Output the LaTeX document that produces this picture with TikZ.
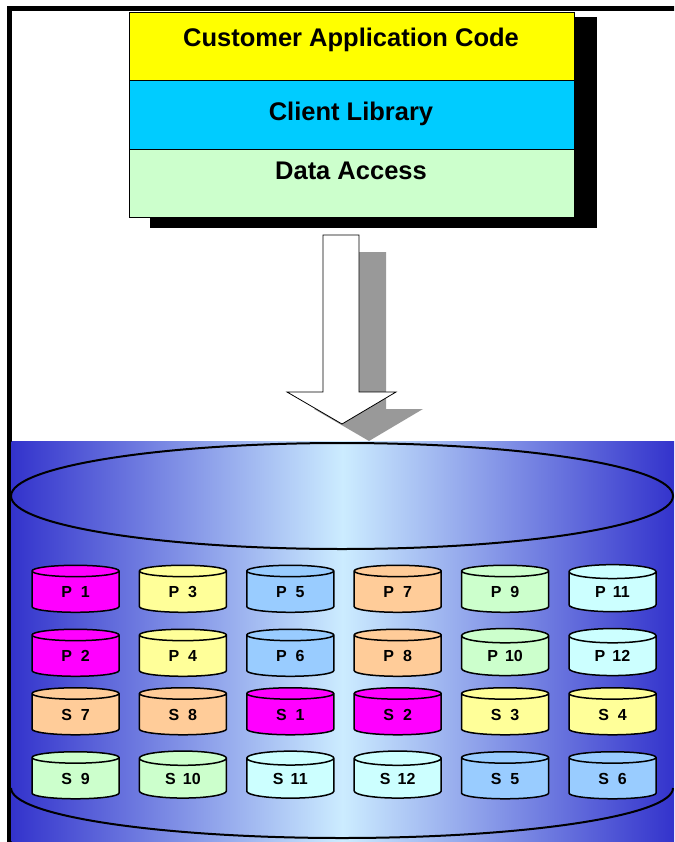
\documentclass[tikz,border=0pt]{standalone}
\usepackage{fontspec}
\setmainfont{Liberation Sans}
\usetikzlibrary{shapes.geometric}
\definecolor{appyellow}{HTML}{FFFF00}
\definecolor{libcyan}{HTML}{00CCFF}
\definecolor{accgreen}{HTML}{CCFFCC}
\definecolor{dmagenta}{HTML}{FF00FF}
\definecolor{dyellow}{HTML}{FFFF99}
\definecolor{dblue}{HTML}{99CCFF}
\definecolor{dpeach}{HTML}{FFCC99}
\definecolor{dgreen}{HTML}{CCFFCC}
\definecolor{dcyan}{HTML}{CCFFFF}
\definecolor{vaultdark}{HTML}{3333CC}
\definecolor{vaultlight}{HTML}{CCECFF}
\definecolor{shadowgray}{HTML}{999999}
\begin{document}
\begin{tikzpicture}[x=1pt,y=-1pt,
        layer/.style={draw, line width=0.8pt, minimum width=445pt,
            minimum height=68.7pt, inner sep=0pt},
        layertext/.style={anchor=base, font=\fontsize{25.5}{30}\selectfont\bfseries},
        drum/.style={cylinder, shape border rotate=90, aspect=0.4, draw,
            line width=1.5pt, minimum width=87pt, minimum height=47pt,
            inner sep=0pt, cylinder uses custom fill,
            cylinder body fill=#1, cylinder end fill=#1,
            font=\fontsize{16}{19}\selectfont\bfseries}]
    \useasboundingbox (0,0) rectangle (674,842);
    \clip (0,0) rectangle (674,842);

    % frame
    \draw[line width=5pt] (9,900) -- (9,8.5) -- (700,8.5);

    % software stack
    \fill (150,17) rectangle (597,228);
    \node[layer, fill=appyellow] (app) at (351.5,46.3) {};
    \node[layer, fill=libcyan] (lib) at (351.5,114.8) {};
    \node[layer, fill=accgreen] (acc) at (351.5,183.5) {};
    \node[layertext] (apptext) at (351,47) {Customer Application Code};
    \node[layertext] (libtext) at (351,121) {Client Library};
    \node[layertext] (acctext) at (351,180) {Data Access};

    % big arrow
    \fill[shadowgray, shift={(27,17)}] (323,235) -- (359,235) -- (359,392)
        -- (396,392) -- (342,424) -- (287,392) -- (323,392) -- cycle;
    \draw[fill=white, line width=0.8pt] (323,235) -- (359,235) -- (359,392)
        -- (396,392) -- (342,424) -- (287,392) -- (323,392) -- cycle;

    % data store
    \shade[left color=vaultdark, right color=vaultdark, middle color=vaultlight]
        (11.5,441) rectangle (674,842);
    \draw[line width=2pt] (342,496) ellipse [x radius=331, y radius=53];
    \draw[line width=2pt] (11,788) arc [start angle=180, end angle=360,
        x radius=331, y radius=-50];

    % primaries and secondaries
    \node[drum=dmagenta] (p1) at (75.5,592) {P\ \ 1};
    \node[drum=dyellow] (p3) at (182.9,592) {P\ \ 3};
    \node[drum=dblue] (p5) at (290.3,592) {P\ \ 5};
    \node[drum=dpeach] (p7) at (397.7,592) {P\ \ 7};
    \node[drum=dgreen] (p9) at (505.1,592) {P\ \ 9};
    \node[drum=dcyan] (p11) at (612.5,592) {P\ \,11};

    \node[drum=dmagenta] (p2) at (75.5,656) {P\ \ 2};
    \node[drum=dyellow] (p4) at (182.9,656) {P\ \ 4};
    \node[drum=dblue] (p6) at (290.3,656) {P\ \ 6};
    \node[drum=dpeach] (p8) at (397.7,656) {P\ \ 8};
    \node[drum=dgreen] (p10) at (505.1,656) {P\ \,10};
    \node[drum=dcyan] (p12) at (612.5,656) {P\ \,12};

    \node[drum=dpeach] (s7) at (75.5,714.5) {S\ \ 7};
    \node[drum=dpeach] (s8) at (182.9,714.5) {S\ \ 8};
    \node[drum=dmagenta] (s1) at (290.3,714.5) {S\ \ 1};
    \node[drum=dmagenta] (s2) at (397.7,714.5) {S\ \ 2};
    \node[drum=dyellow] (s3) at (505.1,714.5) {S\ \ 3};
    \node[drum=dyellow] (s4) at (612.5,714.5) {S\ \ 4};

    \node[drum=dgreen] (s9) at (75.5,778.5) {S\ \ 9};
    \node[drum=dgreen] (s10) at (182.9,778.5) {S\ \,10};
    \node[drum=dcyan] (s11) at (290.3,778.5) {S\ \,11};
    \node[drum=dcyan] (s12) at (397.7,778.5) {S\ \,12};
    \node[drum=dblue] (s5) at (505.1,778.5) {S\ \ 5};
    \node[drum=dblue] (s6) at (612.5,778.5) {S\ \ 6};
\end{tikzpicture}
\end{document}
